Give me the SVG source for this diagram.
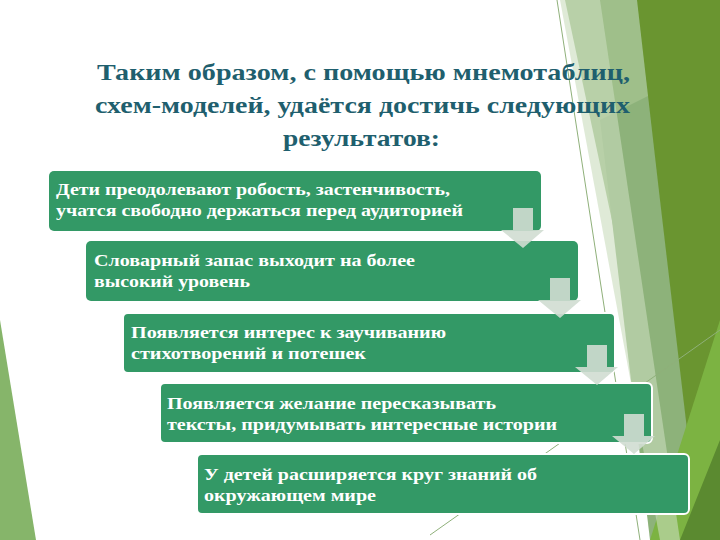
<svg xmlns="http://www.w3.org/2000/svg" width="720" height="540" viewBox="0 0 720 540">
<style>
.box{fill:#339966}
.ob{stroke:#fff;stroke-width:2}
.t{font-family:"Liberation Serif","DejaVu Serif",serif;font-weight:bold;font-size:17px;fill:#fff}
.h{font-family:"Liberation Serif","DejaVu Serif",serif;font-weight:bold;font-size:24px;fill:#1f5f6e}
.ar{fill:#d0ddd2;fill-opacity:0.9}
</style>
<rect width="720" height="540" fill="#fff"/>
<g id="background">
<polygon points="0,320 36,540 0,540" fill="#86b56a"/>
<polygon points="565,0 720,0 720,540 680,540" fill="#9fbf8a"/>
<polygon points="600,120 720,60 720,540 650,540" fill="#8db27a"/>
<polygon points="637,0 720,0 720,540 700,540 660,200" fill="#6a9530"/>
<polygon points="720,320 720,540 650,540" fill="#7cb342"/>
<polygon points="720,440 720,540 680,540" fill="#5b8a30"/>
<polygon points="560,0 600,0 680,540 660,540" fill="#c9dcbc" fill-opacity="0.6"/>
<line x1="557" y1="0" x2="640" y2="540" stroke="#8fb07a" stroke-width="1"/>
<line x1="430" y1="535" x2="720" y2="330" stroke="#8fb07a" stroke-width="1"/>
</g>
<g id="title">
<text class="h" x="97" y="80" textLength="533" lengthAdjust="spacingAndGlyphs">Таким образом, с помощью мнемотаблиц,</text>
<text class="h" x="95" y="113" textLength="535" lengthAdjust="spacingAndGlyphs">схем-моделей, удаётся достичь следующих</text>
<text class="h" x="283" y="146" textLength="157" lengthAdjust="spacingAndGlyphs">результатов:</text>
</g>
<g id="node1"><rect class="box" x="49" y="171" width="492" height="60" rx="5"/>
<text class="t" x="56" y="195" textLength="394" lengthAdjust="spacingAndGlyphs">Дети преодолевают робость, застенчивость,</text>
<text class="t" x="56" y="216" textLength="407" lengthAdjust="spacingAndGlyphs">учатся  свободно держаться перед аудиторией</text></g>
<g id="node2"><rect class="box" x="86" y="241" width="492" height="60" rx="5"/>
<text class="t" x="94" y="266" textLength="321" lengthAdjust="spacingAndGlyphs">Словарный запас выходит на более</text>
<text class="t" x="94" y="287" textLength="156" lengthAdjust="spacingAndGlyphs">высокий уровень</text></g>
<g id="node3"><rect class="box ob" x="123" y="313" width="492" height="60" rx="5"/>
<text class="t" x="131" y="338" textLength="315" lengthAdjust="spacingAndGlyphs">Появляется интерес к заучиванию</text>
<text class="t" x="131" y="359" textLength="235" lengthAdjust="spacingAndGlyphs">стихотворений и потешек</text></g>
<g id="node4"><rect class="box ob" x="160" y="383" width="492" height="60" rx="5"/>
<text class="t" x="167" y="409" textLength="329" lengthAdjust="spacingAndGlyphs">Появляется желание пересказывать</text>
<text class="t" x="167" y="430" textLength="390" lengthAdjust="spacingAndGlyphs">тексты, придумывать интересные истории</text></g>
<g id="node5"><rect class="box ob" x="197" y="454" width="492" height="60" rx="5"/>
<text class="t" x="204" y="480" textLength="333" lengthAdjust="spacingAndGlyphs">У детей расширяется круг знаний об</text>
<text class="t" x="204" y="501" textLength="172" lengthAdjust="spacingAndGlyphs">окружающем мире</text></g>
<g id="connectors">
<polygon class="ar" points="513,208 533,208 533,230 544,230 523,248 501,230 513,230"/>
<polygon class="ar" points="550,278 570,278 570,300 581,300 560,318 538,300 550,300"/>
<polygon class="ar" points="587,345 607,345 607,367 618,367 597,385 575,367 587,367"/>
<polygon class="ar" points="624,414 644,414 644,436 655,436 634,454 612,436 624,436"/>
</g>
</svg>
